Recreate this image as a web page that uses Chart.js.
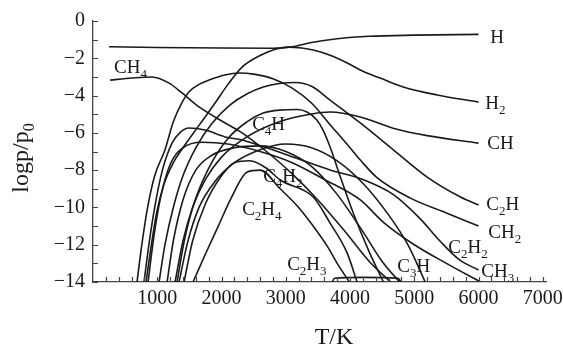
<!DOCTYPE html>
<html>
<head>
<meta charset="utf-8">
<script src="https://cdn.jsdelivr.net/npm/chart.js@4.4.1/dist/chart.umd.min.js"></script>
<style>
  html, body { margin: 0; padding: 0; background: #fff; }
</style>
</head>
<body>
<canvas id="chart" width="563" height="347"></canvas>
<script>
// axis ticks
const xTicks = [200, 400, 600, 800, 1000, 1200, 1400, 1600, 1800, 2000, 2200, 2400, 2600, 2800, 3000,
  3200, 3400, 3600, 3800, 4000, 4200, 4400, 4600, 4800, 5000, 5200, 5400, 5600, 5800, 6000,
  6200, 6400, 6600, 6800, 7000];
const xLabelTicks = [1000, 2000, 3000, 4000, 5000, 6000, 7000];
const yTicks = [-14, -13, -12, -11, -10, -9, -8, -7, -6, -5, -4, -3, -2, -1, 0];
const yLabelTicks = [-14, -12, -10, -8, -6, -4, -2, 0];

// curves: [T (K), log p/p0]
const hCurve = [[250, -1.38], [1000, -1.42], [2000, -1.45], [2800, -1.46], [3100, -1.38], [3400, -1.15],
  [3800, -0.95], [4300, -0.82], [5000, -0.76], [6000, -0.72]];
const ch4Curve = [[265, -3.17], [607, -3.06], [919, -3.0], [1184, -3.33], [1386, -3.86], [1651, -4.61],
  [2056, -5.47], [2321, -6.0], [2700, -7.0], [3100, -8.2], [3500, -9.6], [3900, -11.2], [4300, -12.9], [4630, -14]];
const h2Curve = [[826, -14], [900, -12.2], [990, -10.3], [1100, -8.8], [1250, -7.6], [1400, -6.8], [1650, -5.6],
  [1900, -4.4], [2100, -3.4], [2320, -2.47], [2600, -1.85], [2850, -1.5], [3050, -1.4], [3250, -1.45],
  [3427, -1.56], [3700, -1.85], [3956, -2.25], [4200, -2.7], [4470, -3.06], [4829, -3.54], [5358, -3.97], [6000, -4.35]];
const c2h2Curve = [[685, -14], [760, -12], [850, -10], [960, -8.3], [1121, -6.9], [1250, -5.4], [1380, -4.4],
  [1495, -3.8], [1650, -3.4], [1807, -3.17], [2050, -2.9], [2274, -2.79], [2500, -2.85], [2800, -3.1],
  [3100, -3.6], [3400, -4.4], [3700, -5.6], [4000, -6.8], [4160, -7.46], [4420, -8.4], [4940, -9.5],
  [5500, -10.3], [6000, -11.0]];
const c2hCurve = [[1028, -14], [1120, -12], [1250, -10], [1400, -8.3], [1600, -6.8], [1850, -5.5], [2134, -4.5],
  [2400, -3.9], [2650, -3.54], [2900, -3.35], [3150, -3.3], [3400, -3.5], [3690, -4.24], [4160, -5.47],
  [4670, -6.9], [5200, -8.37], [5720, -9.44], [6000, -9.87]];
const chCurve = [[1277, -14], [1400, -11.8], [1550, -10], [1750, -8.5], [2000, -7.3], [2400, -6.2], [2900, -5.4],
  [3380, -5.0], [3690, -4.88], [4160, -5.15], [4670, -5.75], [5200, -6.15], [6000, -6.55]];
const ch3Curve = [[794, -14], [870, -12], [960, -10], [1080, -8], [1230, -6.55], [1350, -6.0], [1495, -5.74],
  [1745, -5.85], [2056, -6.22], [2320, -6.38], [2700, -6.8], [3200, -7.4], [3700, -8.0], [4200, -8.5],
  [4670, -9.3], [5090, -10.6], [5400, -11.8], [5700, -12.8], [6000, -13.36]];
const ch2Curve = [[857, -14], [950, -11.5], [1050, -9.5], [1200, -7.7], [1400, -6.8], [1700, -6.5], [2100, -6.6],
  [2600, -7.0], [3100, -7.6], [3600, -8.5], [4160, -9.6], [4520, -10.8], [5000, -12.0], [5500, -13.0], [6030, -14]];
const c2Curve = [[1153, -14], [1250, -11.8], [1400, -9.6], [1600, -8.0], [1850, -7.2], [2200, -6.8], [2600, -6.7],
  [3000, -7.0], [3400, -7.8], [3800, -9.3], [4200, -11.3], [4500, -12.9], [4770, -14]];
const c4hCurve = [[1308, -14], [1420, -11.8], [1570, -9.8], [1800, -7.9], [2100, -6.3], [2400, -5.4], [2650, -4.94],
  [2900, -4.78], [3180, -4.75], [3330, -4.88], [3480, -5.3], [3580, -5.85], [3690, -6.76], [3850, -8.37],
  [4050, -10.3], [4300, -12.4], [4520, -14]];
const c3hCurve = [[1340, -14], [1470, -11.9], [1650, -10], [1900, -8.6], [2200, -7.6], [2600, -6.9], [3000, -6.6],
  [3400, -6.8], [3800, -7.5], [4200, -8.7], [4600, -10.4], [4900, -12], [5170, -14]];
const c4h2Curve = [[1417, -14], [1550, -11.8], [1750, -9.8], [2000, -8.3], [2200, -7.6], [2440, -7.5], [2700, -7.9],
  [2913, -8.53], [3427, -9.44], [3690, -10.84], [3956, -12.45], [4110, -14]];
const c2h4Curve = [[1557, -14], [1750, -12.5], [1950, -11.0], [2150, -9.5], [2400, -8.1], [2600, -8.0],
  [2913, -9.0], [3200, -10.0], [3427, -11.0], [3650, -12.1], [3800, -13.0], [3990, -14]];
const c2h3Curve = [[3720, -14], [3760, -13.8], [4200, -13.75], [4750, -13.8], [4790, -14]];

const curves = [hCurve, ch4Curve, h2Curve, c2h2Curve, c2hCurve, chCurve, ch3Curve, ch2Curve,
  c2Curve, c4hCurve, c3hCurve, c4h2Curve, c2h4Curve, c2h3Curve];

// species labels: name, left edge T, baseline logp
const labelNames = ['H', 'H2', 'CH', 'CH4', 'C2H', 'CH2', 'C2H2', 'CH3', 'C3H', 'C2H3', 'C2H4', 'C4H2', 'C4H'];
const labelT = [6184, 6106, 6137, 327, 6121, 6153, 5530, 6044, 4735, 3022, 2321, 2648, 2477];
const labelY = [-1.18, -4.72, -6.87, -2.79, -10.14, -11.64, -12.45, -13.73, -13.47, -13.36, -10.41, -8.64, -5.85];

const serif = "'Liberation Serif', 'Times New Roman', serif";
const ink = '#1a1a1a';

function drawChem(ctx, text, x, y, size) {
    let cx = x;
    for (const ch of text) {
        const sub = ch >= '0' && ch <= '9';
        ctx.font = (sub ? Math.round(size * 0.7) : size) + 'px ' + serif;
        ctx.fillText(ch, cx, sub ? y + size * 0.28 : y);
        cx += ctx.measureText(ch).width;
    }
}

const decor = {
    id: 'decor',
    afterDraw(chart) {
        const ctx = chart.ctx;
        const xs = chart.scales.x;
        const ys = chart.scales.y;
        const area = chart.chartArea;
        ctx.save();
        ctx.strokeStyle = '#444';
        ctx.lineWidth = 1.2;
        ctx.beginPath();
        xTicks.forEach(v => {
            const px = Math.round(xs.getPixelForValue(v)) + 0.5;
            ctx.moveTo(px, area.bottom);
            ctx.lineTo(px, area.bottom - 5);
        });
        yTicks.forEach(v => {
            const py = Math.round(ys.getPixelForValue(v)) + 0.5;
            ctx.moveTo(area.left, py);
            ctx.lineTo(area.left + 5, py);
        });
        ctx.stroke();

        ctx.fillStyle = ink;
        ctx.textAlign = 'left';
        ctx.textBaseline = 'alphabetic';
        labelNames.forEach((n, i) => {
            drawChem(ctx, n, xs.getPixelForValue(labelT[i]), ys.getPixelForValue(labelY[i]), 19);
        });

        // axis titles
        ctx.font = '24px ' + serif;
        ctx.textAlign = 'center';
        ctx.fillText('T/K', 334, 344);

        ctx.translate(28, 158);
        ctx.rotate(-Math.PI / 2);
        ctx.textAlign = 'left';
        ctx.font = '24px ' + serif;
        const main = 'logp/p';
        const w = ctx.measureText(main).width;
        ctx.font = '16px ' + serif;
        const w0 = ctx.measureText('0').width;
        const start = -(w + w0) / 2;
        ctx.font = '24px ' + serif;
        ctx.fillText(main, start, 0);
        ctx.font = '16px ' + serif;
        ctx.fillText('0', start + w, 6);
        ctx.restore();
    }
};

new Chart(document.getElementById('chart'), {
    type: 'line',
    data: {
        datasets: curves.map(c => ({
            data: c,
            borderColor: ink,
            borderWidth: 1.6,
            pointRadius: 0,
            fill: false,
            cubicInterpolationMode: 'monotone'
        }))
    },
    options: {
        responsive: false,
        animation: false,
        layout: { padding: { top: 21, right: 17, left: 0, bottom: 0 } },
        plugins: { legend: { display: false }, tooltip: { enabled: false } },
        scales: {
            x: {
                type: 'linear',
                min: 0,
                max: 7050,
                afterBuildTicks: s => { s.ticks = xTicks.map(v => ({ value: v })); },
                afterFit: s => { s.height = 65; s.paddingLeft = 0; s.paddingRight = 0; },
                grid: { display: true, drawOnChartArea: false, drawTicks: false },
                border: { display: true, color: '#444', width: 1.3 },
                ticks: {
                    autoSkip: false,
                    maxRotation: 0,
                    padding: 5,
                    color: ink,
                    font: { family: serif, size: 20 },
                    callback: v => xLabelTicks.includes(v) ? String(v) : ''
                }
            },
            y: {
                type: 'linear',
                min: -14,
                max: 0,
                afterBuildTicks: s => { s.ticks = yTicks.map(v => ({ value: v })); },
                afterFit: s => { s.width = 93; },
                grid: { display: true, drawOnChartArea: false, drawTicks: false },
                border: { display: true, color: '#444', width: 1.3 },
                ticks: {
                    autoSkip: false,
                    padding: 8,
                    color: ink,
                    font: { family: serif, size: 20 },
                    callback: v => yLabelTicks.includes(v) ? (v < 0 ? '\u2212' + Math.abs(v) : String(v)) : ''
                }
            }
        }
    },
    plugins: [decor]
});
</script>
</body>
</html>
